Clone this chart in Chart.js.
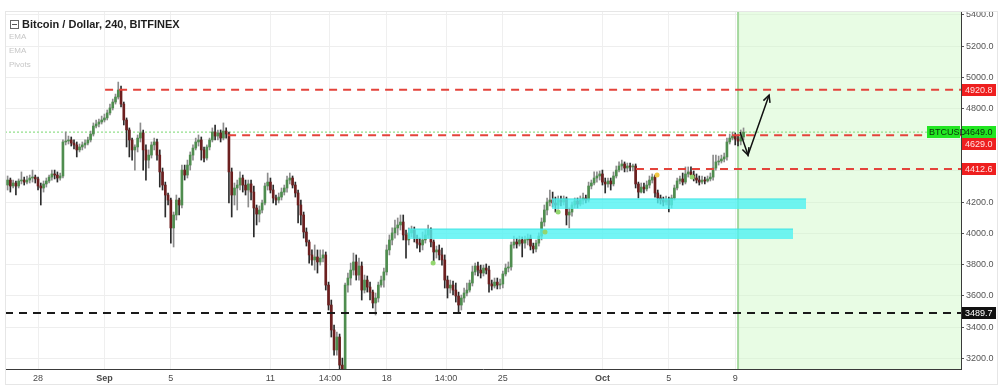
<!DOCTYPE html>
<html>
<head>
<meta charset="utf-8">
<title>Bitcoin / Dollar, 240, BITFINEX</title>
<script src="https://cdn.jsdelivr.net/npm/chart.js@4/dist/chart.umd.min.js"></script>
<style>
  html, body { margin: 0; padding: 0; background: #fff; }
  #wrap { position: relative; width: 1000px; height: 391px; }
  #wrap canvas { position: absolute; left: 0; top: 0; }
  .frame { position: absolute; left: 5px; top: 11px; width: 993px; height: 374px; border: 1px solid #e6e6e6; box-sizing: border-box; pointer-events: none; }
  .icon { position: absolute; left: 10px; top: 20px; width: 7px; height: 7px; border: 1px solid #666; }
  .icon::after { content: ''; position: absolute; left: 1px; right: 1px; top: 3px; height: 1px; background: #555; }
  .title { position: absolute; left: 22px; top: 18px; line-height: 12px; font: bold 11px "Liberation Sans", Arial, sans-serif; color: #1e1e1e; white-space: nowrap; }
  .study { position: absolute; left: 9px; line-height: 11px; font: 8px "Liberation Sans", Arial, sans-serif; color: #c6c6c6; }
</style>
</head>
<body>
<div id="wrap">
  <canvas id="chart" width="1000" height="391"></canvas>
  <div class="frame"></div>
  <div class="icon"></div>
  <div class="title">Bitcoin / Dollar, 240, BITFINEX</div>
  <div class="study" style="top:32px">EMA</div>
  <div class="study" style="top:46px">EMA</div>
  <div class="study" style="top:60px">Pivots</div>
</div>
<script>
// 4h candles
const startDay = -11 / 6;   // first candle Aug 26 04:00 (days counted from Aug 28 00:00)
const candleStep = 4 / 24;

const openP = [
  4310,4342,4304,4323,4304,4336,4342,4329,4342,4355,
  4361,4349,4304,4291,4317,4336,4361,4381,4374,4355,
  4368,4586,4592,4599,4579,4567,4535,4554,4567,4579,
  4599,4637,4688,4701,4714,4727,4740,4772,4804,4842,
  4874,4919,4829,4727,4663,4599,4535,4554,4611,4644,
  4535,4470,4502,4567,4586,4502,4394,4310,4246,4214,
  4035,4118,4214,4182,4406,4374,4438,4502,4547,4586,
  4599,4535,4483,4554,4599,4650,4624,4644,4611,4656,
  4637,4394,4246,4291,4310,4355,4310,4278,4317,4265,
  4163,4124,4150,4195,4304,4329,4278,4227,4214,4233,
  4265,4291,4342,4355,4310,4259,4182,4118,4009,3945,
  3862,3830,3849,3817,3842,3862,3669,3541,3381,3253,
  3336,3156,3112,3669,3714,3765,3817,3733,3791,3637,
  3701,3656,3624,3554,3586,3669,3701,3753,3894,3958,
  4003,4035,4054,4073,3990,3958,4003,4022,3970,3938,
  3926,3958,3990,4022,3945,3881,3894,3862,3830,3701,
  3650,3669,3637,3599,3541,3586,3618,3637,3682,3753,
  3791,3765,3746,3778,3765,3676,3663,3688,3669,3676,
  3740,3778,3785,3926,3945,3932,3958,3938,3958,3970,
  3919,3900,3938,3983,4073,4150,4201,4214,4195,4182,
  4214,4201,4220,4118,4137,4182,4208,4188,4214,4227,
  4214,4304,4323,4355,4368,4381,4329,4317,4336,4317,
  4368,4406,4432,4445,4419,4432,4426,4432,4317,4265,
  4297,4285,4310,4342,4361,4259,4227,4214,4201,4214,
  4182,4227,4291,4336,4349,4329,4381,4394,4374,4355,
  4342,4329,4342,4336,4349,4361,4419,4458,4464,4477,
  4490,4586,4611,4624,4605,4592,4618
];
const highP = [
  4368,4355,4342,4336,4349,4394,4361,4368,4374,4406,
  4374,4361,4323,4336,4355,4374,4406,4406,4394,4387,
  4599,4650,4624,4618,4599,4586,4573,4586,4599,4618,
  4656,4708,4727,4733,4752,4765,4791,4829,4861,4893,
  4970,4945,4842,4740,4676,4611,4567,4631,4708,4663,
  4567,4535,4586,4611,4605,4535,4419,4329,4259,4227,
  4137,4246,4227,4438,4438,4470,4522,4567,4611,4631,
  4618,4554,4567,4611,4676,4695,4663,4663,4708,4676,
  4650,4419,4323,4342,4394,4374,4342,4342,4342,4304,
  4182,4176,4214,4323,4387,4355,4310,4246,4259,4291,
  4310,4368,4387,4368,4329,4278,4214,4137,4035,3958,
  3894,3926,3894,3894,3894,3881,3688,3573,3413,3368,
  3355,3201,3682,3746,3810,3874,3862,3842,3817,3733,
  3727,3688,3637,3618,3688,3727,3778,3926,3990,4035,
  4086,4099,4118,4118,4022,4035,4047,4041,3990,3970,
  4009,4022,4054,4035,3958,3919,3926,3906,3862,3727,
  3701,3695,3682,3624,3605,3650,3682,3701,3791,3810,
  3817,3797,3797,3804,3791,3701,3714,3714,3708,3759,
  3804,3817,3945,3983,3970,3983,3977,3983,3996,3990,
  3938,3958,4003,4099,4182,4227,4278,4265,4233,4240,
  4240,4240,4233,4163,4201,4227,4227,4240,4259,4246,
  4329,4342,4394,4394,4400,4406,4355,4355,4355,4394,
  4432,4458,4470,4458,4451,4451,4445,4445,4329,4323,
  4323,4336,4368,4381,4374,4278,4246,4233,4240,4233,
  4246,4310,4355,4368,4387,4426,4426,4426,4400,4381,
  4368,4368,4361,4368,4387,4502,4502,4496,4502,4515,
  4611,4637,4650,4644,4631,4663,4676
];
const lowP = [
  4278,4265,4291,4246,4291,4317,4310,4317,4323,4329,
  4323,4278,4182,4265,4297,4323,4342,4349,4329,4342,
  4355,4567,4573,4560,4541,4490,4522,4535,4547,4567,
  4586,4624,4676,4682,4701,4714,4727,4759,4791,4829,
  4861,4810,4695,4554,4490,4470,4406,4522,4586,4406,
  4342,4419,4483,4535,4470,4297,4278,4105,4182,3938,
  3913,4086,4118,4163,4342,4355,4406,4470,4535,4560,
  4470,4458,4470,4535,4586,4599,4599,4586,4599,4611,
  4195,4105,4182,4150,4278,4265,4246,4169,4214,3977,
  4054,4073,4131,4182,4278,4259,4195,4182,4195,4214,
  4246,4265,4317,4291,4233,4067,4054,3970,3919,3810,
  3797,3765,3746,3797,3817,3637,3509,3336,3220,3220,
  3060,2975,3073,3624,3669,3733,3701,3701,3573,3618,
  3624,3573,3522,3477,3560,3656,3656,3733,3862,3926,
  3970,3990,4022,3958,3842,3926,3977,3945,3906,3881,
  3894,3938,3970,3913,3817,3842,3830,3797,3650,3586,
  3618,3605,3560,3490,3509,3560,3599,3624,3663,3733,
  3727,3714,3727,3740,3624,3637,3650,3644,3644,3650,
  3727,3753,3765,3906,3906,3919,3849,3906,3926,3894,
  3874,3881,3919,3958,4047,4118,4176,4169,4137,4156,
  4176,4182,4054,4035,4111,4163,4163,4176,4188,4195,
  4201,4285,4310,4329,4342,4310,4259,4297,4278,4304,
  4355,4394,4406,4394,4394,4400,4400,4291,4227,4259,
  4259,4272,4291,4323,4233,4195,4188,4176,4182,4137,
  4163,4214,4278,4317,4310,4317,4361,4355,4336,4323,
  4310,4317,4317,4329,4336,4342,4406,4438,4451,4458,
  4470,4573,4599,4567,4560,4567,4599
];
const closeP = [
  4342,4304,4323,4304,4336,4342,4329,4342,4355,4361,
  4349,4304,4291,4317,4336,4361,4381,4374,4355,4368,
  4586,4592,4599,4579,4567,4535,4554,4567,4579,4599,
  4637,4688,4701,4714,4727,4740,4772,4804,4842,4874,
  4919,4829,4727,4663,4599,4535,4554,4611,4644,4535,
  4470,4502,4567,4586,4502,4394,4310,4246,4214,4035,
  4118,4214,4182,4406,4374,4438,4502,4547,4586,4599,
  4535,4483,4554,4599,4650,4624,4644,4611,4656,4637,
  4394,4246,4291,4310,4355,4310,4278,4317,4265,4163,
  4124,4150,4195,4304,4329,4278,4227,4214,4233,4265,
  4291,4342,4355,4310,4259,4182,4118,4009,3945,3862,
  3830,3849,3817,3842,3862,3669,3541,3381,3253,3336,
  3156,3112,3669,3714,3765,3817,3733,3791,3637,3701,
  3656,3624,3554,3586,3669,3701,3753,3894,3958,4003,
  4035,4054,4073,3990,3958,4003,4022,3970,3938,3926,
  3958,3990,4022,3945,3881,3894,3862,3830,3701,3650,
  3669,3637,3599,3541,3586,3618,3637,3682,3753,3791,
  3765,3746,3778,3765,3676,3663,3688,3669,3676,3740,
  3778,3785,3926,3945,3932,3958,3938,3958,3970,3919,
  3900,3938,3983,4073,4150,4201,4214,4195,4182,4214,
  4201,4220,4118,4137,4182,4208,4188,4214,4227,4214,
  4304,4323,4355,4368,4381,4329,4317,4336,4317,4368,
  4406,4432,4445,4419,4432,4426,4432,4317,4265,4297,
  4285,4310,4342,4361,4259,4227,4214,4201,4214,4182,
  4227,4291,4336,4349,4329,4381,4394,4374,4355,4342,
  4329,4342,4336,4349,4361,4419,4458,4464,4477,4490,
  4586,4611,4624,4605,4592,4618,4649
];

// axes
const xTickDays = [0, 4, 8, 14, 17.583, 21, 24.583, 28, 34, 38, 42];
const xTickLabels = ['28', 'Sep', '5', '11', '14:00', '18', '14:00', '25', 'Oct', '5', '9'];
const yTickValues = [3200, 3400, 3600, 3800, 4000, 4200, 4400, 4600, 4800, 5000, 5200, 5400];
const xMin = -1.99, xMax = 55.6, yMin = 3131, yMax = 5419;

// horizontal levels drawn on the chart
const levelValues = [4920.8, 4629.0, 4412.6, 3489.7];
const levelStarts = [4.04, 11.45, 36.02, -1.99];
const levelColors = ['#e4433b', '#e4433b', '#e4433b', '#1a1a1a'];
const lastPrice = 4649.0;
const lastPriceEnd = 53.55;

// cyan zones
const zoneTop = [4221, 4028];
const zoneBottom = [4156, 3964];
const zoneStart = [30.96, 22.29];
const zoneEnd = [46.27, 45.48];

const forecastStart = 42.17;

// drawn arrow path
const arrowDays = [42.29, 42.77, 44.04];
const arrowValues = [4650, 4502, 4887];

// pivot dots
const pivotDays = [23.80, 30.54, 31.33, 37.29, 39.40];
const pivotValues = [3810, 4009, 4137, 4374, 4361];
const pivotColors = ['#93d66f', '#93d66f', '#93d66f', '#f0c843', '#93d66f'];

// price tags on the right axis
const tagValues = [4920.8, 4649.0, 4629.0, 4412.6, 3489.7];
const tagBg = ['#ee1f1f', '#22e622', '#ee1f1f', '#ee1f1f', '#111111'];
const tagFg = ['#ffe2e2', '#0b300b', '#ffe2e2', '#ffe2e2', '#ffffff'];

const FONT = '"Liberation Sans", Arial, sans-serif';
const upColor = '#4f8d4f', downColor = '#6c1f1f';
const upWick = '#8c8c8c', downWick = '#2b2b2b';

const candleDays = openP.map((_, i) => startDay + i * candleStep);
const isUp = openP.map((o, i) => closeP[i] >= o);

const datasets = [
  {
    label: 'bodies', type: 'bar',
    data: candleDays.map((d, i) => ({ x: d, y: [openP[i], closeP[i]] })),
    backgroundColor: isUp.map(u => u ? upColor : downColor),
    barThickness: 2, minBarLength: 1, grouped: false, order: 2
  },
  {
    label: 'wicks', type: 'bar',
    data: candleDays.map((d, i) => ({ x: d, y: [lowP[i], highP[i]] })),
    backgroundColor: isUp.map(u => u ? upWick : downWick),
    barThickness: 1, grouped: false, order: 3
  }
];

levelValues.forEach((v, i) => {
  datasets.push({
    type: 'line', data: [{ x: levelStarts[i], y: v }, { x: xMax, y: v }],
    borderColor: levelColors[i], borderWidth: 2, borderDash: [8, 6],
    pointRadius: 0, order: 0
  });
});

datasets.push({
  type: 'line', data: [{ x: xMin, y: lastPrice }, { x: lastPriceEnd, y: lastPrice }],
  borderColor: '#a4e59e', borderWidth: 1.5, borderDash: [2, 2], pointRadius: 0, order: 4
});

// each zone: top edge filled down to its bottom value, laid over the candles
zoneTop.forEach((top, i) => {
  datasets.push({
    type: 'line', data: [{ x: zoneStart[i], y: top }, { x: zoneEnd[i], y: top }],
    borderColor: '#3fe3e3', borderWidth: 1, pointRadius: 0, order: 1,
    fill: { value: zoneBottom[i] }, backgroundColor: 'rgba(80, 242, 242, 0.8)'
  });
});

// light green forecast area + its left edge
datasets.push({
  type: 'line', data: [{ x: forecastStart, y: yMax }, { x: xMax, y: yMax }],
  borderWidth: 0, pointRadius: 0, fill: 'start',
  backgroundColor: 'rgba(205, 248, 195, 0.45)', order: 10
});
datasets.push({
  type: 'line', data: [{ x: forecastStart, y: yMin }, { x: forecastStart, y: yMax }],
  borderColor: '#a5d89f', borderWidth: 2, pointRadius: 0, order: 9
});

datasets.push({
  label: 'arrow', type: 'line',
  data: arrowDays.map((d, i) => ({ x: d, y: arrowValues[i] })),
  borderColor: '#111', borderWidth: 1.5, pointRadius: 0, order: -1
});

datasets.push({
  type: 'line', showLine: false,
  data: pivotDays.map((d, i) => ({ x: d, y: pivotValues[i] })),
  pointRadius: 2.5, pointBorderWidth: 0, pointBackgroundColor: pivotColors, order: -1
});

// arrowheads at each end of the drawn path
const arrowHeads = {
  id: 'arrowHeads',
  afterDatasetsDraw(chart) {
    const idx = chart.data.datasets.findIndex(d => d.label === 'arrow');
    const pts = chart.getDatasetMeta(idx).data;
    const ctx = chart.ctx;
    ctx.save();
    ctx.strokeStyle = '#111';
    ctx.lineWidth = 1.5;
    for (let i = 1; i < pts.length; i++) {
      const a = pts[i - 1], b = pts[i];
      const ang = Math.atan2(b.y - a.y, b.x - a.x);
      ctx.beginPath();
      ctx.moveTo(b.x - 8 * Math.cos(ang - 0.45), b.y - 8 * Math.sin(ang - 0.45));
      ctx.lineTo(b.x, b.y);
      ctx.lineTo(b.x - 8 * Math.cos(ang + 0.45), b.y - 8 * Math.sin(ang + 0.45));
      ctx.stroke();
    }
    ctx.restore();
  }
};

// coloured price boxes on the axis
const priceTags = {
  id: 'priceTags',
  afterDraw(chart) {
    const { ctx, chartArea, scales: { y } } = chart;
    ctx.save();
    ctx.font = '9px ' + FONT;
    ctx.textBaseline = 'middle';
    let prevBottom = -Infinity;
    tagValues.forEach((v, i) => {
      let cy = Math.round(y.getPixelForValue(v));
      if (cy - 6 < prevBottom) cy = prevBottom + 6;
      prevBottom = cy + 6;
      ctx.fillStyle = tagBg[i];
      ctx.fillRect(chartArea.right + 1, cy - 6, 34, 12);
      ctx.fillStyle = tagFg[i];
      ctx.fillText(v.toFixed(1), chartArea.right + 4, cy + 0.5);
      if (v === lastPrice) {
        ctx.fillStyle = tagBg[i];
        ctx.fillRect(chartArea.right - 34, cy - 6, 33, 12);
        ctx.fillStyle = tagFg[i];
        ctx.fillText('BTCUSD', chartArea.right - 32, cy + 0.5);
      }
    });
    ctx.restore();
  }
};

new Chart(document.getElementById('chart').getContext('2d'), {
  type: 'bar',
  data: { datasets },
  plugins: [arrowHeads, priceTags],
  options: {
    responsive: false,
    animation: false,
    layout: { padding: { left: 5, top: 12, right: 4, bottom: 7 } },
    plugins: { legend: { display: false }, tooltip: { enabled: false } },
    scales: {
      x: {
        type: 'linear', min: xMin, max: xMax, offset: false,
        grid: { color: '#efefef', drawTicks: false, offset: false },
        border: { color: '#3a3a3a' },
        afterBuildTicks: s => { s.ticks = xTickDays.map(v => ({ value: v })); },
        afterFit: s => { s.height = 15; },
        ticks: {
          padding: 4, color: '#4a4a4a', maxRotation: 0, autoSkip: false,
          font: c => ({ family: FONT, size: 9, weight: (xTickLabels[c.index] === 'Sep' || xTickLabels[c.index] === 'Oct') ? 'bold' : 'normal' }),
          callback: (v, i) => xTickLabels[i]
        }
      },
      y: {
        type: 'linear', position: 'right', min: yMin, max: yMax,
        grid: { color: '#eeeeee', tickLength: 3, tickColor: '#555' },
        border: { color: '#3a3a3a' },
        afterBuildTicks: s => { s.ticks = yTickValues.map(v => ({ value: v })); },
        afterFit: s => { s.width = 35; },
        ticks: { padding: 2, color: '#555', font: { family: FONT, size: 9 }, callback: v => v.toFixed(1) }
      }
    }
  }
});
</script>
</body>
</html>
